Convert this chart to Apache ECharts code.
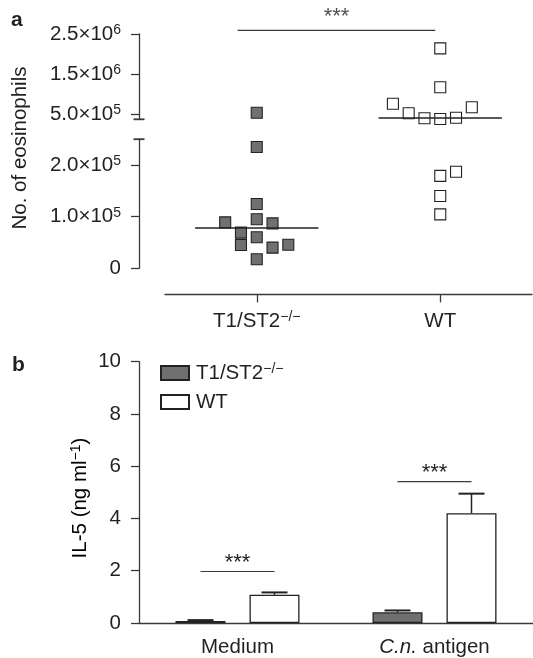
<!DOCTYPE html>
<html><head><meta charset="utf-8">
<script src="https://cdn.jsdelivr.net/npm/echarts@6/dist/echarts.min.js"></script>
<style>html,body{margin:0;padding:0;background:#fff}#c{width:533px;height:658px}</style>
</head><body><div id="c"></div>
<script>
// ---------- Panel a data (No. of eosinophils) ----------
const groupsA = ['T1/ST2', 'WT'];
const koValues = [5.3e5, 2.35e5, 1.245e5, 0.95e5, 0.89e5, 0.87e5, 0.69e5, 0.60e5, 0.45e5, 0.457e5, 0.40e5, 0.174e5];
const koSlots  = [0, 0, 0, 0, -2, 1, -1, 0, -1, 2, 1, 0];
const wtValues = [2.14e6, 1.17e6, 7.58e5, 6.67e5, 5.17e5, 3.92e5, 3.75e5, 4.08e5, 1.87e5, 1.79e5, 1.40e5, 1.045e5];
const wtSlots  = [0, 0, -3, 2, -2, -1, 0, 1, 1, 0, 0, 0];
const medians  = [0.78e5, 4.0e5];
const upperTicks = [5e5, 1.5e6, 2.5e6];
const lowerTicks = [0, 1e5, 2e5];
const breakLow = 2.5e5, breakHigh = 3.675e5, maxA = 2.5e6;
const sigA = 2.59e6;
// ---------- Panel b data (IL-5) ----------
const conditions = ['Medium', 'C.n. antigen'];
const koIL5 = [0.08, 0.41];
const koIL5Err = [0.03, 0.07];
const wtIL5 = [1.08, 4.2];
const wtIL5Err = [0.09, 0.75];
const sigB = [1.97, 5.41];

// ---------- styling ----------
const FONT = 'Liberation Sans, Arial, Helvetica, sans-serif';
const INK = '#231f20';
const LINE = '#3a3a3a';
const GRAY = '#707070';
const FS = 20.5;
const slotStep = 0.086;
const medHalf = 0.336;
const barW = 50, barGapPx = 24, barOff = (barW + barGapPx) / 2, capW = 26;

const txt = (size, extra) => Object.assign({fontFamily: FONT, fontSize: size, color: INK}, extra || {});
const supRich = {
  m: txt(FS, {lineHeight: 22}),
  s: txt(14, {lineHeight: 14, verticalAlign: 'top'})
};
function sci(v) {
  if (v === 0) return '{m|0}';
  const e = Math.floor(Math.log10(v) + 1e-9);
  const m = v / Math.pow(10, e);
  return '{m|' + m.toFixed(1) + '×10}{s|' + e + '}';
}

function pts(values, slots, gi, upper) {
  const out = [];
  values.forEach((v, i) => {
    const inUpper = v > breakLow;
    if (inUpper === upper) out.push([gi + slots[i] * slotStep, v]);
  });
  return out;
}

const axisLineStyle = {color: LINE, width: 1.3};
const sq = (color, data, xi, yi) => ({
  type: 'scatter', xAxisIndex: xi, yAxisIndex: yi, data: data, symbol: 'rect', symbolSize: 11,
  clip: false, z: 3,
  itemStyle: {color: color, borderColor: '#222', borderWidth: 1.1, opacity: 1}
});

const chart = echarts.init(document.getElementById('c'), null, {renderer: 'canvas'});
chart.setOption({
  animation: false,
  backgroundColor: '#fff',
  textStyle: {fontFamily: FONT},
  grid: [
    {left: 165, right: 1, top: 34, height: 85.3},
    {left: 165, right: 1, top: 139.2, height: 129.1},
    {left: 139, top: 361.7, width: 399, height: 261.6}
  ],
  legend: {
    data: ['T1/ST2', 'WT'], orient: 'vertical', left: 160, top: 362, padding: 0,
    itemWidth: 28, itemHeight: 14, itemGap: 8, icon: 'rect',
    formatter: n => n === 'T1/ST2' ? '{m|T1/ST2}{s|−/−}' : '{m|' + n + '}',
    textStyle: {rich: supRich, padding: [0, 0, 0, 2]}
  },
  xAxis: [
    {gridIndex: 0, type: 'value', min: 0.5, max: 2.5, show: false},
    {gridIndex: 1, type: 'value', min: 0.5, max: 2.5, offset: 26,
      axisLine: {show: true, onZero: false, lineStyle: axisLineStyle},
      axisTick: {show: true, length: 8, lineStyle: axisLineStyle, customValues: [1, 2]},
      axisLabel: {customValues: [1, 2], margin: 16, rich: supRich,
        formatter: v => {
          const n = groupsA[Math.round(v) - 1];
          return n === 'T1/ST2' ? '{m|T1/ST2}{s|−/−}' : '{m|' + n + '}';
        }},
      splitLine: {show: false}
    },
    {gridIndex: 2, type: 'category', data: conditions,
      axisLine: {lineStyle: axisLineStyle},
      axisTick: {alignWithLabel: true, length: 8, lineStyle: axisLineStyle},
      axisLabel: {margin: 14, rich: {m: txt(FS), i: txt(FS, {fontStyle: 'italic'})},
        formatter: v => v === 'C.n. antigen' ? '{i|C.n.}{m| antigen}' : '{m|' + v + '}'}
    }
  ],
  yAxis: [
    {gridIndex: 0, type: 'value', min: breakHigh, max: maxA, offset: 26,
      axisLine: {show: true, lineStyle: axisLineStyle, symbol: ['rect', 'none'], symbolSize: [11, 1.8]},
      axisTick: {show: true, length: 8, lineStyle: axisLineStyle, customValues: upperTicks},
      axisLabel: {customValues: upperTicks, margin: 18, rich: supRich, formatter: sci},
      splitLine: {show: false}
    },
    {gridIndex: 1, type: 'value', min: 0, max: breakLow, offset: 26,
      axisLine: {show: true, lineStyle: axisLineStyle, symbol: ['none', 'rect'], symbolSize: [11, 1.8]},
      axisTick: {show: true, length: 8, lineStyle: axisLineStyle, customValues: lowerTicks},
      axisLabel: {customValues: lowerTicks, margin: 18, rich: supRich, formatter: sci},
      splitLine: {show: false}
    },
    {gridIndex: 2, type: 'value', min: 0, max: 10, interval: 2,
      axisLine: {show: true, lineStyle: axisLineStyle},
      axisTick: {show: true, length: 8, lineStyle: axisLineStyle},
      axisLabel: {margin: 18, color: INK, fontSize: FS, fontFamily: FONT},
      splitLine: {show: false}
    }
  ],
  graphic: [
    {type: 'text', left: 11, top: 10, style: {text: 'a', font: 'bold 21px ' + FONT, fill: INK}},
    {type: 'text', left: 12, top: 355, style: {text: 'b', font: 'bold 21px ' + FONT, fill: INK}},
    {type: 'text', x: 20, y: 148, rotation: Math.PI / 2,
      style: {text: 'No. of eosinophils', font: FS + 'px ' + FONT, fill: INK, align: 'center', verticalAlign: 'middle'}},
    {type: 'text', x: 80, y: 498, rotation: Math.PI / 2,
      style: {text: '{m|IL-5 (ng ml}{s|−1}{m|)}', rich: supRich, align: 'center', verticalAlign: 'middle'}}
  ],
  series: [
    sq(GRAY, pts(koValues, koSlots, 1, true), 0, 0),
    sq(GRAY, pts(koValues, koSlots, 1, false), 1, 1),
    sq('#fff', pts(wtValues, wtSlots, 2, true), 0, 0),
    sq('#fff', pts(wtValues, wtSlots, 2, false), 1, 1),
    {type: 'line', xAxisIndex: 1, yAxisIndex: 1, symbol: 'none', z: 4, clip: false,
      data: [[1 - medHalf, medians[0]], [1 + medHalf, medians[0]]], lineStyle: {color: '#222', width: 1.3}},
    {type: 'line', xAxisIndex: 0, yAxisIndex: 0, symbol: 'none', z: 4, clip: false,
      data: [[2 - medHalf, medians[1]], [2 + medHalf, medians[1]]], lineStyle: {color: '#222', width: 1.3}},
    {type: 'line', xAxisIndex: 0, yAxisIndex: 0, symbol: 'none', clip: false,
      data: [[0.896, sigA], [1.973, sigA]], lineStyle: {color: LINE, width: 1.2}},
    {type: 'scatter', xAxisIndex: 0, yAxisIndex: 0, symbolSize: 0.01, clip: false,
      data: [[(0.896 + 1.973) / 2, sigA]],
      label: {show: true, position: 'top', distance: 2, formatter: '***', fontSize: 22, color: INK, fontFamily: FONT}},
    // panel b bars
    {name: 'T1/ST2', type: 'bar', xAxisIndex: 2, yAxisIndex: 2, data: koIL5, barWidth: barW, barGap: (barGapPx / barW * 100) + '%',
      itemStyle: {color: GRAY, borderColor: '#222', borderWidth: 1.3}},
    {name: 'WT', type: 'bar', xAxisIndex: 2, yAxisIndex: 2, data: wtIL5, barWidth: barW,
      itemStyle: {color: '#fff', borderColor: '#222', borderWidth: 1.3}},
    {type: 'custom', xAxisIndex: 2, yAxisIndex: 2, z: 5,
      data: conditions.map((c, i) => [i, koIL5[i], koIL5[i] + koIL5Err[i], -1])
        .concat(conditions.map((c, i) => [i, wtIL5[i], wtIL5[i] + wtIL5Err[i], 1])),
      renderItem: (params, api) => {
        const b = api.coord([api.value(0), api.value(1)]);
        const t = api.coord([api.value(0), api.value(2)]);
        const x = b[0] + api.value(3) * barOff;
        return {type: 'group', children: [
          {type: 'line', shape: {x1: x, y1: b[1], x2: x, y2: t[1]}, style: {stroke: '#222', lineWidth: 1.5}},
          {type: 'line', shape: {x1: x - capW / 2, y1: t[1], x2: x + capW / 2, y2: t[1]}, style: {stroke: '#222', lineWidth: 2}}
        ]};
      }},
    {type: 'custom', xAxisIndex: 2, yAxisIndex: 2, z: 5,
      data: conditions.map((c, i) => [i, sigB[i]]),
      renderItem: (params, api) => {
        const p = api.coord([api.value(0), api.value(1)]);
        return {type: 'group', children: [
          {type: 'line', shape: {x1: p[0] - barOff, y1: p[1], x2: p[0] + barOff, y2: p[1]}, style: {stroke: LINE, lineWidth: 1.2}},
          {type: 'text', x: p[0], y: p[1] + 2, style: {text: '***', font: '22px ' + FONT, fill: INK, align: 'center', verticalAlign: 'bottom'}}
        ]};
      }}
  ]
});
</script></body></html>
